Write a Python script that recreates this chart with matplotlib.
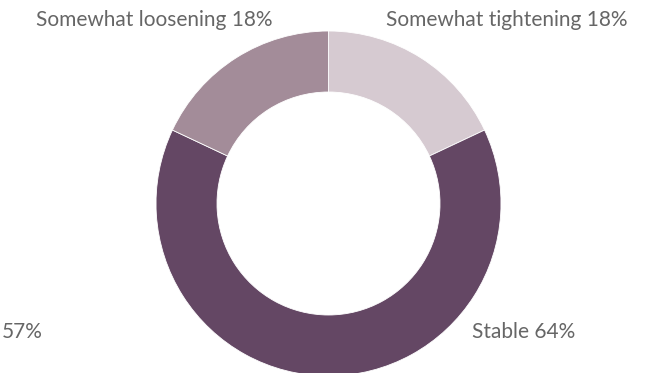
import matplotlib
matplotlib.use("Agg")
import matplotlib.pyplot as plt

# outlook shares, clockwise from 12 o'clock
categories = ["Somewhat tightening", "Stable", "Somewhat loosening"]
shares = [18, 64, 18]
colors = ["#D6CAD1", "#644764", "#A38C99"]
stray_label = "57%"

W, H = 655, 373
fig = plt.figure(figsize=(W / 100, H / 100), dpi=100)
ax = fig.add_axes([0, 0, 1, 1])

ax.pie(shares, colors=colors, startangle=90, counterclock=False,
       center=(328.5, H - 203.5), radius=172.5,
       wedgeprops=dict(width=61, linewidth=0.6, edgecolor="white"))

# pie() resets the limits, so work in pixel coordinates afterwards
ax.set_xlim(0, W)
ax.set_ylim(0, H)
ax.set_aspect("equal")
ax.axis("off")

txt = dict(fontsize=15, color="#666666", family=["Lato", "DejaVu Sans"], va="center")
ax.text(386, H - 20, "{} {}%".format(categories[0], shares[0]), ha="left", **txt)
ax.text(472, H - 332, "{} {}%".format(categories[1], shares[1]), ha="left", **txt)
ax.text(272, H - 20, "{} {}%".format(categories[2], shares[2]), ha="right", **txt)
ax.text(2, H - 332, stray_label, ha="left", **txt)

fig.savefig("out.png", dpi=100)
